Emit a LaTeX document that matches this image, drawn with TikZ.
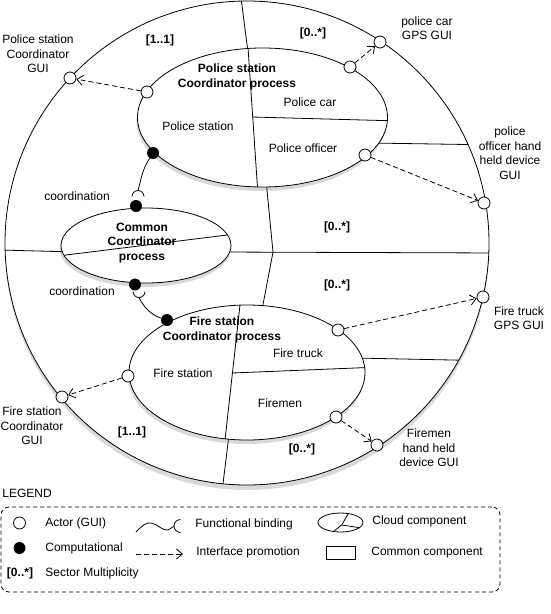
\documentclass[tikz,border=0pt]{standalone}
\usepackage{fontspec}
\setmainfont{Liberation Sans}
\usetikzlibrary{shapes.geometric,shadows,arrows.meta}
\begin{document}
\begin{tikzpicture}[x=1pt, y=-1pt, line width=0.8pt,
  every node/.style = {font=\fontsize{12}{14.5}\selectfont, align=center, inner sep=1pt},
  zone/.style = {ellipse, draw, fill=white, inner sep=0pt,
    drop shadow={shadow xshift=-1pt, shadow yshift=-4pt, opacity=0.3}},
  gui/.style = {circle, draw, fill=white, minimum size=12pt, inner sep=0pt},
  comp/.style = {circle, fill=black, minimum size=12pt, inner sep=0pt},
  promo/.style = {dash pattern=on 5pt off 3pt, -{Straight Barb[length=6pt, width=10pt]}},
  mult/.style = {font=\fontsize{12}{14.5}\selectfont\bfseries},
  title/.style = {font=\fontsize{12}{14.5}\selectfont\bfseries}]
  \useasboundingbox (0,0) rectangle (551,614);
  \node (world) [circle, draw, fill=white, minimum size=484pt, inner sep=0pt,
    drop shadow={shadow xshift=0pt, shadow yshift=-5pt, opacity=0.3}] at (247,243) {};
  \begin{scope}
    \clip (247,243) circle [radius=242];
    \draw (240,-10) -- (249,60);
    \draw (266,180) -- (273,252) -- (261,315);
    \draw (0,250) -- (75,252);
    \draw (220,252) -- (500,253);
    \draw (370,143) -- (500,145);
    \draw (355,358) -- (500,361);
    \draw (229,435) -- (221,500);
  \end{scope}
  \node (pol) [zone, minimum width=250pt, minimum height=139pt] at (262.5,117.5) {};
  \node (com) [zone, minimum width=170pt, minimum height=75pt] at (146,245.5) {};
  \node (fir) [zone, minimum width=236pt, minimum height=135pt] at (247,372.5) {};
  \begin{scope}
    \clip (262.5,117.5) ellipse [x radius=125, y radius=69.5];
    \draw (247.5,40) -- (258,195);
    \draw (252,117) -- (400,121);
  \end{scope}
  \begin{scope}
    \clip (146,245.5) ellipse [x radius=85, y radius=37.5];
    \draw (50,257) -- (240,233.4);
  \end{scope}
  \begin{scope}
    \clip (247,372.5) ellipse [x radius=118, y radius=67.5];
    \draw (241.1,295) -- (223.9,450);
    \draw (232,373) -- (380,367);
  \end{scope}
  \node (poltitle) [title] at (237,77) {Police station\\Coordinator process};
  \node (polst) at (198,126) {Police station};
  \node (polcar) at (310,102) {Police car};
  \node (polofc) at (303,148) {Police officer};
  \node (comtitle) [title] at (142,243) {Common\\Coordinator\\process};
  \node (firtitle) [title] at (222,330) {Fire station\\Coordinator process};
  \node (first) at (183,373) {Fire station};
  \node (firtruck) at (298,353) {Fire truck};
  \node (firmen) at (280,403) {Firemen};
  \node (m1) [mult] at (160,40) {[1..1]};
  \node (m2) [mult] at (313,33) {[0..*]};
  \node (m3) [mult] at (337,227) {[0..*]};
  \node (m4) [mult] at (337,285) {[0..*]};
  \node (m5) [mult] at (132,432) {[1..1]};
  \node (m6) [mult] at (302,449) {[0..*]};
  \node (psgui) [gui] at (70,78) {};
  \node (psport) [gui] at (147,92) {};
  \node (pcgui) [gui] at (380,42) {};
  \node (pcport) [gui] at (350,67) {};
  \node (pogui) [gui] at (484,203) {};
  \node (poport) [gui] at (365,155) {};
  \node (ftgui) [gui] at (483,297) {};
  \node (ftport) [gui] at (338,330) {};
  \node (fmgui) [gui] at (377,445) {};
  \node (fmport) [gui] at (336,417) {};
  \node (fsgui) [gui] at (62,397) {};
  \node (fsport) [gui] at (128,376) {};
  \draw[promo] (psport) -- (psgui);
  \draw[promo] (pcport) -- (pcgui);
  \draw[promo] (poport) -- (pogui);
  \draw[promo] (ftport) -- (ftgui);
  \draw[promo] (fmport) -- (fmgui);
  \draw[promo] (fsport) -- (fsgui);
  \node (poldot) [comp] at (153,153) {};
  \node (comtop) [comp] at (136,206) {};
  \node (combot) [comp] at (135,284.5) {};
  \node (firdot) [comp] at (167,320) {};
  \coordinate (sock1) at (138,190.5);
  \coordinate (sock2) at (139,297.5);
  \draw (poldot) .. controls (142,170) and (141,180) .. (sock1);
  \draw (132,196.5) arc [start angle=180, end angle=360, radius=6];
  \draw (133,291.5) arc [start angle=180, end angle=0, radius=6];
  \draw (sock2) .. controls (143,306) and (151,315) .. (firdot);
  \node (coord1) at (77,196) {coordination};
  \node (coord2) at (82,291) {coordination};
  \node (pslabel) at (38,54) {Police station\\Coordinator\\GUI};
  \node (pclabel) at (427,28) {police car\\GPS GUI};
  \node (polabel) at (510,153) {police\\officer hand\\held device\\GUI};
  \node (ftlabel) at (519,318) {Fire truck\\GPS GUI};
  \node (fmlabel) at (429,448) {Firemen\\hand held\\device GUI};
  \node (fslabel) at (32,426) {Fire station\\Coordinator\\GUI};
  \node (legend) [anchor=west] at (1,493) {LEGEND};
  \node (legbox) [draw, dash pattern=on 4pt off 3pt, rounded corners=8pt,
    minimum width=499pt, minimum height=85pt] at (250.5,549.5) {};
  \node (lgui) [gui] at (19.5,523) {};
  \node (lguitext) [anchor=west] at (44,523) {Actor (GUI)};
  \node (lcomp) [comp] at (19.5,548) {};
  \node (lcomptext) [anchor=west] at (44,548) {Computational};
  \node (lmult) [mult] at (20,573) {[0..*]};
  \node (lmulttext) [anchor=west] at (44,573) {Sector Multiplicity};
  \draw (136,532) .. controls (142,526) and (146,522) .. (151,523)
    .. controls (158,524) and (162,531) .. (168,530)
    .. controls (171,529) and (172,527) .. (174,526);
  \draw (180.5,519.5) arc [start angle=270, end angle=90, radius=6.5];
  \node (lbindtext) [anchor=west] at (194,524) {Functional binding};
  \coordinate (lpa) at (136,554);
  \coordinate (lpb) at (183,554);
  \draw[promo] (lpa) -- (lpb);
  \node (lpromotext) [anchor=west] at (195,552) {Interface promotion};
  \node (lcloud) [ellipse, draw, minimum width=45pt, minimum height=19pt, inner sep=0pt] at (340.5,522.5) {};
  \coordinate (lhub) at (341.7,525);
  \draw (lhub) -- (lcloud.49) (lhub) -- (lcloud.231) (lhub) -- (lcloud.345);
  \node (lcloudtext) [anchor=west] at (371,521) {Cloud component};
  \node (lbox) [draw, minimum width=29pt, minimum height=13pt, inner sep=0pt] at (340.5,553.3) {};
  \node (lboxtext) [anchor=west] at (370,552.5) {Common component};
\end{tikzpicture}
\end{document}
